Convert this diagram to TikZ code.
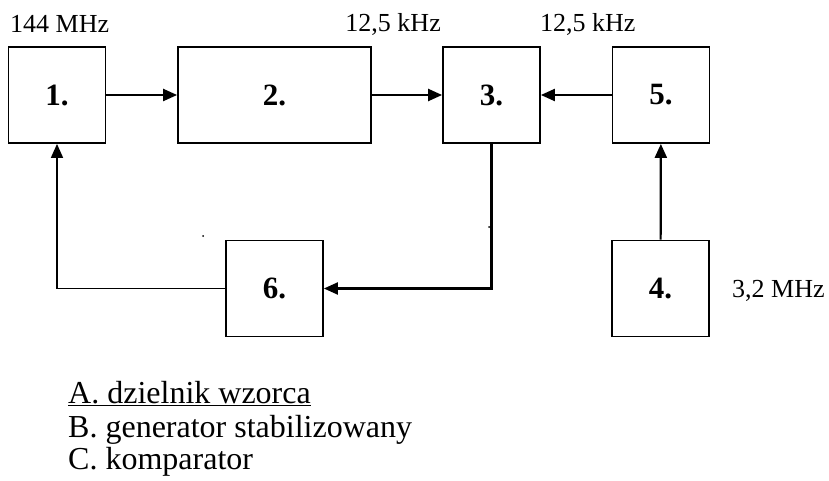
\documentclass[tikz,border=0pt]{standalone}
\usepackage{fontspec}
\setmainfont{Liberation Serif}
\usetikzlibrary{arrows.meta}

\begin{document}
\begin{tikzpicture}[x=1pt,y=-1pt,>={Triangle[length=14pt,width=12pt]},
  blok/.style={draw,line width=1.8pt,minimum width=97pt,minimum height=96pt,inner sep=0pt,
    font=\fontsize{31}{31}\selectfont\bfseries},
  etyk/.style={inner sep=0pt,font=\fontsize{26}{30}\selectfont},
  spis/.style={anchor=base west,inner sep=0pt,font=\fontsize{32}{34}\selectfont}]
\useasboundingbox (0,0) rectangle (829,481);
% bloki
\node[blok] (b1) at (57,95) {1.};
\node[blok,minimum width=193pt] (b2) at (274.5,95) {2.};
\node[blok] (b3) at (491.5,95) {3.};
\node[blok] (b5) at (661,95) {5.};
\node[blok] (b6) at (274.5,288.5) {6.};
\node[blok] (b4) at (660.5,288.5) {4.};
% polaczenia
\draw[->,line width=2.2pt] (b1) -- (b2);
\draw[->,line width=2.2pt] (b2) -- (b3);
\draw[->,line width=2.2pt] (b5) -- (b3);
\draw[->,line width=2.2pt] (b4) -- (b5);
\draw[->,line width=2.2pt] (b3.south) |- (b6.east);
\draw[->,line width=1.6pt] (b6.west) -| (b1.south);
\fill (203,236) circle (1);
\fill (489,227) circle (1);
% czestotliwosci
\node[etyk,anchor=base west] (f1) at (10,33) {144 MHz};
\node[etyk,anchor=base east] (f2) at (441,32) {12,5 kHz};
\node[etyk,anchor=base west] (f3) at (540,32) {12,5 kHz};
\node[etyk,anchor=base west] (f4) at (732,297) {3,2 MHz};
% opis
\node[spis] (la) at (68,403) {\underline{A. dzielnik wzorca}};
\node[spis] (lb) at (68,437) {B. generator stabilizowany};
\node[spis] (lc) at (68,469) {C. komparator};
\end{tikzpicture}
\end{document}
